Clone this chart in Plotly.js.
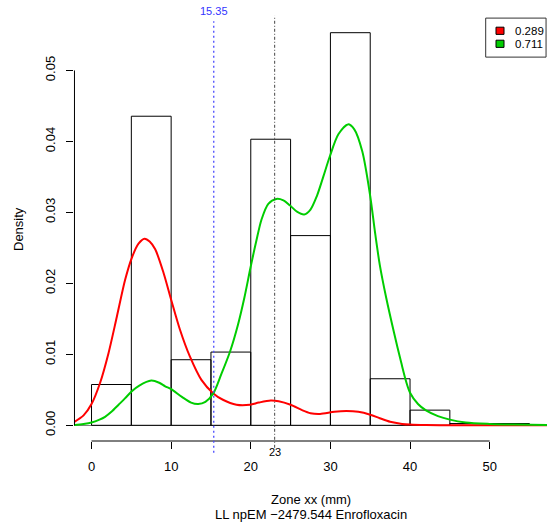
<!DOCTYPE html>
<html>
<head>
<meta charset="utf-8">
<script src="https://cdn.plot.ly/plotly-3.0.1.min.js"></script>
<style>
  html, body { margin: 0; padding: 0; background: #fff; }
  #chart { width: 550px; height: 530px; }
</style>
</head>
<body>
<div id="chart"></div>
<script>
// Histogram of zone diameters (density scale)
const breaks  = [0, 5, 10, 15, 20, 25, 30, 35, 40, 45, 50, 55];
const density = [0.00575, 0.04355, 0.00924, 0.01032, 0.04031, 0.02673,
                 0.05532, 0.00656, 0.00214, 0.00025, 0.00025];

// Weighted component densities from the npEM fit
const redX = [-2.2, -1, 0, 1.08, 2.14, 3.18, 4.22, 5.06, 5.9, 6.66, 7.3, 8.0,
              9.04, 10, 11.1, 12.35, 13.8, 15.3, 16.5, 18.2, 19.9, 21, 22.5,
              23.5, 25, 26.5, 27.5, 28.7, 30.5, 32, 33.5, 35, 36.2, 37.5, 39,
              40, 42, 45, 50, 57.2];
const redY = [0.00045, 0.0014, 0.0030, 0.0060, 0.0102, 0.0153, 0.0205, 0.0236,
              0.0256, 0.0263, 0.0259, 0.0248, 0.0215, 0.0177, 0.0135, 0.0097,
              0.0064, 0.0045, 0.0036, 0.0029, 0.0029, 0.0032, 0.0035, 0.0034,
              0.0029, 0.0021, 0.0017, 0.0016, 0.0019, 0.0020, 0.0019, 0.0015,
              0.0010, 0.0005, 0.0002, 0.0001, 0.00003, 0, 0, 0];

const greenX = [-2.2, -1, 0, 1, 1.7, 2.5, 3.4, 4.2, 5.06, 6, 7.5, 8.5, 9.25, 10,
                11.35, 12.5, 13.4, 14.3, 15.3, 16.3, 17.4, 18.4, 19.2, 20, 20.7,
                21.35, 22.2, 23.2, 24.1, 24.9, 25.8, 26.7, 27.5, 28.3, 29.1,
                29.9, 31, 32.2, 33, 34, 35, 35.6, 36.2, 37, 38, 38.9, 39.5, 40,
                41, 42, 43.5, 45, 47, 50, 53, 57.2];
const greenY = [0.00005, 0.0002, 0.0004, 0.0008, 0.0012, 0.0019, 0.0029, 0.0038,
                0.0048, 0.0056, 0.0063, 0.0060, 0.0055, 0.0051, 0.0040, 0.0032,
                0.0030, 0.0033, 0.0045, 0.0072, 0.0104, 0.0142, 0.0180, 0.0224,
                0.0260, 0.0290, 0.0312, 0.0319, 0.0317, 0.0310, 0.0301, 0.0297,
                0.0304, 0.0323, 0.0350, 0.0378, 0.0410, 0.0424, 0.0417, 0.0386,
                0.0323, 0.0272, 0.0226, 0.0180, 0.0130, 0.0088, 0.0062, 0.0046,
                0.0030, 0.0021, 0.0013, 0.0008, 0.0004, 0.0002, 0.0001, 0.00003];

// Mixture weights shown in the legend
const weights = ['0.289', '0.711'];
const compColors = ['#ff0000', '#00cd00'];

// Reference cut-offs
const cutoffBlue = 15.35;
const cutoffBlack = 23;

const mids = breaks.slice(0, -1).map((b, i) => (b + breaks[i + 1]) / 2);
const widths = breaks.slice(0, -1).map((b, i) => breaks[i + 1] - b);

const FONT = 'Liberation Sans, Arial, Helvetica, sans-serif';

const traces = [
  {
    type: 'bar', x: mids, y: density, width: widths,
    marker: { color: 'rgba(255,255,255,0)', line: { color: '#000', width: 1 } },
    hoverinfo: 'skip', showlegend: false
  },
  {
    type: 'scatter', mode: 'lines', x: redX, y: redY,
    line: { color: compColors[0], width: 2, shape: 'spline', smoothing: 0.8 },
    hoverinfo: 'skip', showlegend: false
  },
  {
    type: 'scatter', mode: 'lines', x: greenX, y: greenY,
    line: { color: compColors[1], width: 2, shape: 'spline', smoothing: 0.8 },
    hoverinfo: 'skip', showlegend: false
  }
];

// Legend box geometry (paper coordinates, top-right corner)
const legX0 = 0.8704, legX1 = 0.998, legY0 = 0.9054, legY1 = 0.9974;
const rowY = [0.9675, 0.9368];

const shapes = [
  // x axis line from 0 to 50
  { type: 'line', xref: 'x', yref: 'paper', x0: 0, x1: 50, y0: 0, y1: 0,
    line: { color: '#000', width: 1 } },
  // y axis line from 0 to 0.05
  { type: 'line', xref: 'paper', yref: 'y', x0: 0.001, x1: 0.001, y0: 0, y1: 0.05,
    line: { color: '#000', width: 1 } },
  // cut-off lines
  { type: 'line', xref: 'x', yref: 'paper', x0: cutoffBlue, x1: cutoffBlue,
    y0: -0.028, y1: 0.99, line: { color: '#4b4bff', width: 1.3, dash: '2px,3px' } },
  { type: 'line', xref: 'x', yref: 'paper', x0: cutoffBlack, x1: cutoffBlack,
    y0: -0.016, y1: 1.003, line: { color: '#444', width: 1, dash: '3px,2px,1px,2px' } },
  // legend frame
  { type: 'rect', xref: 'paper', yref: 'paper', x0: legX0, x1: legX1, y0: legY0, y1: legY1,
    line: { color: '#333', width: 1 }, fillcolor: '#fff' }
];

const annotations = [
  { text: String(cutoffBlue), xref: 'x', yref: 'paper', x: cutoffBlue, y: 1.014,
    showarrow: false, font: { family: FONT, size: 11, color: '#3333ff' }, yanchor: 'middle' },
  { text: String(cutoffBlack), xref: 'x', yref: 'paper', x: cutoffBlack, y: -0.025,
    showarrow: false, font: { family: FONT, size: 11, color: '#000' }, yanchor: 'middle' },
  { text: 'Density', xref: 'paper', yref: 'paper', x: -0.1184, y: 0.5, textangle: -90,
    showarrow: false, font: { family: FONT, size: 13, color: '#000' },
    xanchor: 'center', yanchor: 'middle' },
  { text: 'Zone xx (mm)', xref: 'paper', yref: 'paper', x: 0.5, y: -0.1387,
    showarrow: false, font: { family: FONT, size: 13, color: '#000' }, yanchor: 'middle' },
  { text: 'LL npEM \u22122479.544 Enrofloxacin', xref: 'paper', yref: 'paper', x: 0.5, y: -0.174,
    showarrow: false, font: { family: FONT, size: 13, color: '#000' }, yanchor: 'middle' }
];

weights.forEach((w, i) => {
  shapes.push({
    type: 'rect', xref: 'paper', yref: 'paper',
    x0: 0.8922, x1: 0.9091, y0: rowY[i] - 0.0085, y1: rowY[i] + 0.0085,
    line: { color: '#000', width: 1 }, fillcolor: compColors[i]
  });
  annotations.push({
    text: w, xref: 'paper', yref: 'paper', x: 0.9281, y: rowY[i],
    xanchor: 'left', yanchor: 'middle', showarrow: false,
    font: { family: FONT, size: 11.5, color: '#000' }
  });
});

const layout = {
  width: 550, height: 530,
  margin: { l: 74, r: 3, t: 17, b: 89, pad: 0 },
  paper_bgcolor: '#fff', plot_bgcolor: '#fff',
  font: { family: FONT, size: 13, color: '#000' },
  showlegend: false,
  xaxis: {
    range: [-2.2, 57.2], showgrid: false, zeroline: false, showline: false,
    tickmode: 'array', tickvals: [0, 10, 20, 30, 40, 50],
    ticks: 'outside', ticklen: 7, tickcolor: '#000', tickwidth: 1,
    ticklabelstandoff: 6,
    tickfont: { family: FONT, size: 13, color: '#000' }
  },
  yaxis: {
    range: [-0.00221, 0.05753], showgrid: false, showline: false,
    zeroline: true, zerolinecolor: '#808080', zerolinewidth: 1,
    tickmode: 'array', tickvals: [0, 0.01, 0.02, 0.03, 0.04, 0.05],
    ticktext: ['0.00', '0.01', '0.02', '0.03', '0.04', '0.05'],
    ticks: 'outside', ticklen: 7, tickcolor: '#000', tickwidth: 1,
    tickangle: -90, ticklabelstandoff: 6,
    tickfont: { family: FONT, size: 13, color: '#000' }
  },
  shapes: shapes,
  annotations: annotations
};

Plotly.newPlot('chart', traces, layout, { displayModeBar: false, staticPlot: true });
</script>
</body>
</html>
